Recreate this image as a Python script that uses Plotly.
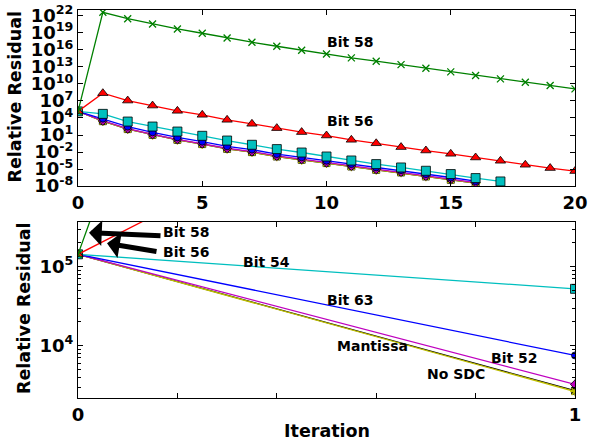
import numpy as np
import plotly.graph_objects as go

# Iteration numbers
iterations = list(range(21))

# Relative residual, stored as log10 values
bit58_log10 = [5.157, 22.6, 21.47, 20.54, 19.66, 18.91, 18.08, 17.33, 16.62, 15.92, 15.27,
               14.57, 13.99, 13.39, 12.76, 12.11, 11.46, 10.88, 10.30, 9.70, 9.12]
bit56_log10 = [5.157, 8.36, 7.06, 6.18, 5.25, 4.55, 3.67, 2.97, 2.21, 1.51, 0.91,
               0.15, -0.46, -1.13, -1.73, -2.31, -2.96, -3.54, -4.24, -4.82, -5.35]
bit54_log10 = [5.157, 4.72, 3.37, 2.49, 1.61, 0.86, 0.03, -0.72, -1.48, -2.08, -2.78,
               -3.48, -4.12, -4.71, -5.29, -5.87, -6.58, -7.17]
bit63_log10 = [5.157, 3.877, 2.48, 1.47, 0.58, -0.17, -0.99, -1.57, -2.35, -2.93, -3.52,
               -4.12, -4.70, -5.18, -5.88, -6.48, -7.12]
bit52_log10 = [5.157, 3.51, 2.13, 1.12, 0.25, -0.50, -1.33, -1.91, -2.68, -3.26, -3.84,
               -4.44, -5.02, -5.49, -6.20, -6.78, -7.36]
mantissa_log10 = [5.157, 3.42, 2.03, 1.02, 0.14, -0.61, -1.44, -2.02, -2.79, -3.37, -3.95,
                  -4.55, -5.13, -5.60, -6.31, -6.89, -7.47]
nosdc_log10 = [5.157, 3.43, 2.04, 1.03, 0.15, -0.60, -1.43, -2.01, -2.78, -3.36, -3.94,
               -4.54, -5.12, -5.59, -6.30, -6.88, -7.46]

# Tick labels
top_x_ticks = [0, 5, 10, 15, 20]
top_x_labels = ["0", "5", "10", "15", "20"]
top_y_exponents = [-8, -5, -2, 1, 4, 7, 10, 13, 16, 19, 22]
top_y_labels = ["10<sup>%d</sup>" % e for e in top_y_exponents]
bot_x_ticks = [0, 0.2, 0.4, 0.6, 0.8, 1.0]
bot_x_labels = ["0", " ", " ", " ", " ", "1"]
bot_y_ticks = [1e4, 1e5]
bot_y_labels = ["10<sup>4</sup>", "10<sup>5</sup>"]
bot_y_minor = [3e3, 4e3, 5e3, 6e3, 7e3, 8e3, 9e3,
               2e4, 3e4, 4e4, 5e4, 6e4, 7e4, 8e4, 9e4, 2e5, 3e5]

series = [
    ("No SDC", nosdc_log10, "#000000", "square", 7, "#000000"),
    ("Mantissa", mantissa_log10, "#bfbf00", "asterisk-open", 8, "#bfbf00"),
    ("Bit 52", bit52_log10, "#bf00bf", "diamond", 7, "#000000"),
    ("Bit 63", bit63_log10, "#0000ff", "circle", 7, "#000000"),
    ("Bit 54", bit54_log10, "#00bfbf", "square", 9, "#000000"),
    ("Bit 56", bit56_log10, "#ff0000", "triangle-up", 9, "#000000"),
    ("Bit 58", bit58_log10, "#008000", "x-thin-open", 7, "#008000"),
]

fig = go.Figure()
for name, vals, color, symbol, size, edge in series:
    y = np.power(10.0, np.array(vals))
    x = iterations[:len(vals)]
    for xa, ya in (("x", "y"), ("x2", "y2")):
        fig.add_trace(go.Scatter(
            x=x, y=y, xaxis=xa, yaxis=ya, name=name, mode="lines+markers",
            line=dict(color=color, width=1.3),
            marker=dict(symbol=symbol, size=size, color=color,
                        line=dict(color=edge, width=1.3 if "open" in symbol else 0.8)),
            showlegend=False))

FONT = "DejaVu Sans"
tickfont = dict(family=FONT, size=18, color="black", weight="bold")
axis_common = dict(showline=True, linecolor="black", linewidth=1.2, mirror="ticks",
                   ticks="inside", ticklen=5, tickcolor="black", showgrid=False,
                   zeroline=False, tickfont=tickfont, automargin=False,
                   ticklabeloverflow="allow")

fig.update_layout(
    width=589, height=442, plot_bgcolor="white", paper_bgcolor="white",
    margin=dict(l=78, r=14, t=10, b=44),
    xaxis=dict(domain=[0, 1], anchor="y", range=[0, 20], tickmode="array",
               tickvals=top_x_ticks, ticktext=top_x_labels, **axis_common),
    yaxis=dict(domain=[0.546, 1], anchor="x", type="log", range=[-8, 23],
               tickmode="array", tickvals=[10.0 ** e for e in top_y_exponents],
               ticktext=top_y_labels, **axis_common),
    xaxis2=dict(domain=[0, 1], anchor="y2", range=[0, 1], tickmode="array",
                tickvals=bot_x_ticks, ticktext=bot_x_labels, **axis_common),
    yaxis2=dict(domain=[0, 0.4536], anchor="x2", type="log", range=[3.338, 5.566],
                tickmode="array", tickvals=bot_y_ticks, ticktext=bot_y_labels,
                minor=dict(tickmode="array", tickvals=bot_y_minor, ticks="inside",
                           ticklen=3, tickcolor="black", showgrid=False),
                **axis_common),
)

W, H, L, B = 497.0, 388.0, 78.0, 398.0
def px(xp, yp):
    return (xp - L) / W, (B - yp) / H

# Axis titles
for text, xp, yp, ang, size in [("Relative Residual", 15, 97.5, -90, 17.5),
                                 ("Relative Residual", 24, 309, -90, 17.5),
                                 ("Iteration", 327, 431, 0, 17.5)]:
    xx, yy = px(xp, yp)
    fig.add_annotation(x=xx, y=yy, xref="paper", yref="paper", text=text, textangle=ang,
                       showarrow=False, xanchor="center", yanchor="middle",
                       font=dict(family=FONT, size=size, color="black", weight="bold"))

labels = [
    ("Bit 58", 350, 41.7), ("Bit 56", 350, 120.7),
    ("Bit 58", 186, 232), ("Bit 56", 186, 252.3), ("Bit 54", 266, 261.7),
    ("Bit 63", 350, 300), ("Mantissa", 372.5, 346), ("Bit 52", 514.5, 358.3),
    ("No SDC", 456, 374.3),
]
for text, xp, yp in labels:
    xx, yy = px(xp, yp)
    fig.add_annotation(x=xx, y=yy, xref="paper", yref="paper", text=text,
                       showarrow=False, xanchor="center", yanchor="middle",
                       font=dict(family=FONT, size=14, color="black", weight="bold"))

arrows = [((89, 232.7), (73, 3)), ((107, 243.3), (51, 8.4))]
for (hx, hy), (dx, dy) in arrows:
    xx, yy = px(hx, hy)
    fig.add_annotation(x=xx, y=yy, xref="paper", yref="paper", text="", showarrow=True,
                       ax=dx, ay=dy, arrowhead=1, arrowsize=0.85, arrowwidth=5,
                       arrowcolor="black")

# Remove the default 8px body margin so the figure fills the window exactly.
fig.write_html("out.html", config={"displayModeBar": False},
               post_script="document.body.style.margin='0px';")
